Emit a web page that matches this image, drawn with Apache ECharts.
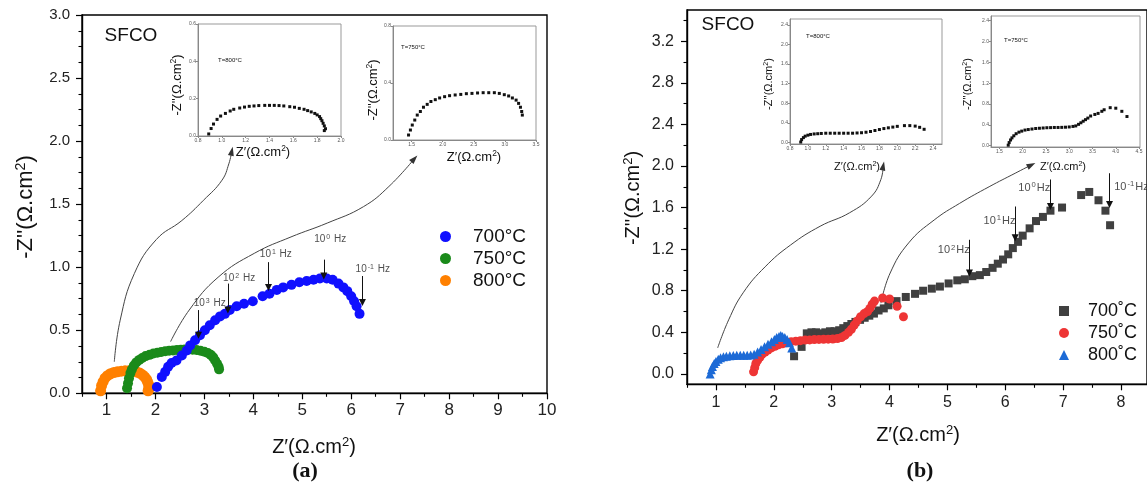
<!DOCTYPE html>
<html><head><meta charset="utf-8">
<script src="https://cdn.jsdelivr.net/npm/echarts@6/dist/echarts.min.js"></script>
<style>html,body{margin:0;padding:0;background:#fff}#c{width:1147px;height:486px}</style>
</head><body><div id="c"></div>
<script>
// ---------- tick labels ----------
const A_XTICKS = [1,2,3,4,5,6,7,8,9,10];
const A_XMINOR = [0.5,1.5,2.5,3.5,4.5,5.5,6.5,7.5,8.5,9.5];
const A_YTICKS = [0,0.5,1,1.5,2,2.5,3];
const A_YMINOR = [0.125,0.25,0.375,0.625,0.75,0.875,1.125,1.25,1.375,1.625,1.75,1.875,2.125,2.25,2.375,2.625,2.75,2.875];
const B_XTICKS = [1,2,3,4,5,6,7,8];
const B_XMINOR = [0.5,1.5,2.5,3.5,4.5,5.5,6.5,7.5];
const B_YTICKS = [0,0.4,0.8,1.2,1.6,2.0,2.4,2.8,3.2];
const B_YMINOR = [0.2,0.6,1.0,1.4,1.8,2.2,2.6,3.0,3.4];
const INA1_X = [0.8,1.0,1.2,1.4,1.6,1.8,2.0];
const INA1_Y = [0,0.2,0.4,0.6];
const INA2_X = [1.5,2.0,2.5,3.0,3.5];
const INA2_Y = [0,0.4,0.8];
const INB1_X = [0.8,1.0,1.2,1.4,1.6,1.8,2.0,2.2,2.4];
const INB1_Y = [0,0.4,0.8,1.2,1.6,2.0,2.4];
const INB2_X = [1.5,2.0,2.5,3.0,3.5,4.0,4.5];
const INB2_Y = [0,0.4,0.8,1.2,1.6,2.0,2.4];

// ---------- categories ----------
const A_NAMES = ['700°C','750°C','800°C'];
const B_NAMES = ['700˚C','750˚C','800˚C'];

// ---------- panel (a) series ----------
const A_700 = [[2.03,0.05],[2.13,0.13],[2.2,0.17],[2.26,0.21],[2.33,0.24],[2.43,0.26],[2.54,0.30],[2.64,0.34],[2.71,0.38],[2.81,0.42],[2.91,0.46],[3.01,0.50],[3.11,0.54],[3.22,0.58],[3.32,0.61],[3.42,0.63],[3.52,0.66],[3.66,0.69],[3.81,0.71],[3.99,0.73],[4.19,0.77],[4.33,0.79],[4.48,0.82],[4.61,0.84],[4.78,0.86],[4.94,0.88],[5.09,0.89],[5.23,0.90],[5.36,0.91],[5.5,0.91],[5.62,0.90],[5.74,0.87],[5.84,0.84],[5.92,0.81],[6.0,0.77],[6.06,0.73],[6.11,0.69],[6.17,0.63]];
const A_750 = [[1.42,0.04],[1.44,0.08],[1.46,0.12],[1.49,0.16],[1.52,0.19],[1.56,0.22],[1.61,0.245],[1.67,0.265],[1.73,0.28],[1.8,0.295],[1.88,0.305],[1.96,0.315],[2.04,0.322],[2.12,0.328],[2.2,0.333],[2.28,0.337],[2.36,0.34],[2.44,0.343],[2.52,0.345],[2.6,0.347],[2.68,0.347],[2.76,0.346],[2.84,0.343],[2.92,0.338],[3.0,0.33],[3.07,0.32],[3.13,0.305],[3.18,0.285],[3.22,0.26],[3.26,0.235],[3.29,0.21],[3.3,0.19]];
const A_800 = [[0.88,0.02],[0.9,0.06],[0.93,0.09],[0.97,0.12],[1.02,0.14],[1.08,0.155],[1.15,0.165],[1.22,0.17],[1.3,0.175],[1.38,0.178],[1.46,0.178],[1.54,0.175],[1.62,0.168],[1.68,0.16],[1.74,0.145],[1.78,0.13],[1.82,0.11],[1.84,0.09],[1.86,0.07],[1.87,0.05],[1.86,0.03],[1.85,0.02]];
// insets (a)
const INA1_800 = [[0.89,0.011],[0.91,0.04],[0.93,0.064],[0.96,0.089],[0.99,0.107],[1.03,0.121],[1.07,0.134],[1.1,0.143],[1.15,0.15],[1.19,0.155],[1.23,0.159],[1.27,0.161],[1.31,0.163],[1.36,0.164],[1.4,0.164],[1.44,0.164],[1.48,0.163],[1.52,0.161],[1.57,0.157],[1.61,0.154],[1.65,0.148],[1.69,0.143],[1.72,0.136],[1.75,0.129],[1.78,0.121],[1.8,0.113],[1.82,0.104],[1.83,0.093],[1.84,0.082],[1.85,0.068],[1.86,0.054],[1.87,0.039],[1.86,0.029]];
const INA2_750 = [[1.45,0.035],[1.48,0.07],[1.51,0.105],[1.55,0.14],[1.59,0.175],[1.64,0.2],[1.69,0.23],[1.75,0.25],[1.81,0.27],[1.88,0.283],[1.95,0.295],[2.03,0.304],[2.11,0.311],[2.2,0.316],[2.29,0.32],[2.38,0.325],[2.47,0.327],[2.56,0.33],[2.65,0.332],[2.74,0.332],[2.83,0.332],[2.91,0.327],[2.99,0.318],[3.06,0.309],[3.12,0.295],[3.18,0.28],[3.22,0.257],[3.25,0.23],[3.27,0.2],[3.28,0.175]];
// frequency markers (a)
const A_FREQ_EXP = ['3','2','1','0','-1'];
const A_FREQ_TXT = [[3.11,0.716],[3.71,0.914],[4.46,1.10],[5.57,1.22],[6.44,0.98]];
const A_FREQ_ARROW = [[2.88,0.66,0.46],[3.48,0.87,0.66],[4.31,1.04,0.84],[5.44,1.06,0.93],[6.23,0.93,0.72]];
const A_CURVE1 = [[1.16,0.25],[1.28,0.58],[1.57,0.95],[2.02,1.22],[2.54,1.37],[2.98,1.53],[3.36,1.69],[3.50,1.82],[3.56,1.92]];
const A_CURVE2 = [[2.31,0.41],[2.69,0.66],[3.28,0.92],[4.02,1.11],[4.77,1.24],[5.51,1.35],[6.25,1.48],[6.77,1.64],[7.29,1.86]];

// ---------- panel (b) series ----------
const B_700 = [[2.35,0.17],[2.48,0.26],[2.57,0.39],[2.65,0.40],[2.73,0.40],[2.81,0.39],[2.89,0.40],[2.97,0.41],[3.05,0.41],[3.13,0.42],[3.2,0.44],[3.27,0.46],[3.34,0.48],[3.41,0.5],[3.49,0.52],[3.57,0.54],[3.65,0.56],[3.73,0.58],[3.81,0.61],[3.9,0.63],[3.98,0.66],[4.12,0.70],[4.28,0.74],[4.44,0.77],[4.58,0.80],[4.73,0.82],[4.87,0.84],[5.02,0.87],[5.17,0.90],[5.30,0.91],[5.43,0.94],[5.56,0.95],[5.67,0.98],[5.78,1.02],[5.87,1.06],[5.96,1.10],[6.05,1.15],[6.13,1.21],[6.22,1.27],[6.30,1.33],[6.42,1.40],[6.53,1.47],[6.65,1.51],[6.78,1.57],[6.98,1.60],[7.31,1.72],[7.45,1.75],[7.61,1.67],[7.73,1.57],[7.81,1.43]];
const B_750 = [[1.65,0.02],[1.67,0.06],[1.69,0.1],[1.72,0.13],[1.76,0.16],[1.8,0.19],[1.85,0.21],[1.9,0.23],[1.96,0.25],[2.02,0.265],[2.08,0.28],[2.15,0.29],[2.22,0.3],[2.3,0.31],[2.38,0.315],[2.46,0.32],[2.54,0.325],[2.62,0.327],[2.7,0.33],[2.78,0.332],[2.86,0.333],[2.94,0.334],[3.02,0.336],[3.1,0.34],[3.17,0.35],[3.23,0.37],[3.29,0.4],[3.34,0.43],[3.39,0.47],[3.44,0.51],[3.5,0.55],[3.56,0.58],[3.62,0.6],[3.66,0.63],[3.7,0.67],[3.74,0.7],[3.88,0.73],[4.0,0.72],[4.13,0.65],[4.24,0.55]];
const B_800 = [[0.9,0.0],[0.92,0.04],[0.94,0.07],[0.97,0.1],[1.0,0.12],[1.04,0.14],[1.08,0.155],[1.13,0.165],[1.18,0.17],[1.24,0.175],[1.3,0.178],[1.36,0.18],[1.42,0.18],[1.48,0.18],[1.54,0.18],[1.6,0.182],[1.66,0.19],[1.72,0.21],[1.78,0.235],[1.84,0.26],[1.9,0.285],[1.96,0.31],[2.01,0.33],[2.05,0.35],[2.09,0.36],[2.12,0.37],[2.15,0.36],[2.19,0.35],[2.23,0.33],[2.27,0.3],[2.31,0.25]];
// insets (b)
const INB1_800 = [[0.92,0.01],[0.93,0.06],[0.95,0.1],[0.97,0.13],[1.0,0.15],[1.03,0.165],[1.07,0.175],[1.11,0.18],[1.15,0.185],[1.2,0.19],[1.25,0.19],[1.3,0.19],[1.35,0.19],[1.4,0.19],[1.45,0.19],[1.5,0.19],[1.55,0.195],[1.6,0.2],[1.65,0.21],[1.7,0.225],[1.75,0.245],[1.8,0.265],[1.85,0.285],[1.9,0.3],[1.95,0.315],[2.0,0.33],[2.08,0.345],[2.14,0.345],[2.2,0.335],[2.25,0.31],[2.3,0.27]];
const INB2_750 = [[1.69,0.01],[1.71,0.06],[1.74,0.11],[1.77,0.15],[1.81,0.19],[1.86,0.23],[1.92,0.26],[1.98,0.28],[2.05,0.3],[2.12,0.31],[2.2,0.32],[2.28,0.33],[2.36,0.335],[2.44,0.34],[2.52,0.345],[2.6,0.347],[2.68,0.35],[2.76,0.35],[2.84,0.352],[2.92,0.355],[3.0,0.36],[3.08,0.37],[3.14,0.38],[3.2,0.41],[3.25,0.44],[3.3,0.47],[3.35,0.5],[3.4,0.53],[3.46,0.57],[3.55,0.6],[3.62,0.62],[3.7,0.66],[3.75,0.69],[3.88,0.73],[4.0,0.72],[4.13,0.66],[4.24,0.56]];
// frequency markers (b)
const B_FREQ_EXP = ['2','1','0','-1'];
const B_FREQ_TXT = [[5.11,1.19],[5.90,1.475],[6.50,1.79],[8.18,1.80]];
const B_FREQ_ARROW = [[5.38,1.29,0.97],[6.17,1.61,1.31],[6.78,1.87,1.61],[7.80,1.93,1.63]];
const B_CURVE1 = [[1.03,0.25],[1.22,0.52],[1.47,0.78],[1.85,1.03],[2.29,1.24],[2.80,1.42],[3.31,1.55],[3.69,1.71],[3.85,1.87],[3.89,2.0]];
const B_CURVE2 = [[3.85,0.68],[4.01,0.97],[4.33,1.26],[4.77,1.48],[5.21,1.64],[5.72,1.80],[6.17,1.93],[6.45,2.01]];

// ---------- build ----------
const FONT = "'Liberation Sans', Arial, sans-serif";
const chart = echarts.init(document.getElementById('c'), null, {renderer:'canvas'});

function mainAxis(grid, min, max, labels, fontSize, margin, fmt) {
  return { type:'value', gridIndex:grid, min, max,
    axisLine:{show:true, onZero:false, lineStyle:{color:'#000', width:1.4}},
    axisTick:{show:true, inside:false, length:6, customValues:labels, lineStyle:{color:'#000', width:1.2}},
    axisLabel:{show:true, customValues:labels, fontSize, margin, color:'#222', fontFamily:FONT, formatter:fmt},
    splitLine:{show:false} };
}
function minorAxis(grid, min, max, ticks, pos) {
  return { type:'value', gridIndex:grid, min, max, position:pos,
    axisLine:{show:false, onZero:false},
    axisTick:{show:true, inside:false, length:3.5, customValues:ticks, lineStyle:{color:'#000', width:1.1}},
    axisLabel:{show:false}, splitLine:{show:false} };
}
function insetAxis(grid, min, max, labels) {
  return { type:'value', gridIndex:grid, min, max,
    axisLine:{show:true, onZero:false, lineStyle:{color:'#888', width:1}},
    axisTick:{show:true, inside:false, length:2, customValues:labels, lineStyle:{color:'#888'}},
    axisLabel:{show:true, customValues:labels, fontSize:5, margin:2, color:'#555', fontFamily:FONT, formatter:v=>v.toFixed(1)},
    splitLine:{show:false} };
}
const f1 = v => v.toFixed(1);
const fi = v => String(v);

const xAxis = [
  Object.assign(mainAxis(0, 0.5, 10, A_XTICKS, 17, 9, fi), {position:'bottom'}),
  Object.assign(mainAxis(1, 0.5, 8.448, B_XTICKS, 16, 10, fi), {position:'bottom'}),
  insetAxis(2, 0.8, 2.0, INA1_X),
  insetAxis(3, 1.2, 3.5, INA2_X),
  insetAxis(4, 0.8, 2.5, INB1_X),
  insetAxis(5, 1.32, 4.52, INB2_X),
  minorAxis(0, 0.5, 10, A_XMINOR, 'bottom'),
  minorAxis(1, 0.5, 8.448, B_XMINOR, 'bottom')
];
const yAxis = [
  Object.assign(mainAxis(0, 0, 3, A_YTICKS, 15, 12, f1), {position:'left'}),
  Object.assign(mainAxis(1, -0.1, 3.5, B_YTICKS, 16, 13, f1), {position:'left'}),
  insetAxis(2, 0, 0.6, INA1_Y),
  insetAxis(3, 0, 0.8, INA2_Y),
  insetAxis(4, -0.03, 2.52, INB1_Y),
  insetAxis(5, -0.025, 2.49, INB2_Y),
  minorAxis(0, 0, 3, A_YMINOR, 'left'),
  minorAxis(1, -0.1, 3.5, B_YMINOR, 'left')
];
const grid = [
  {left:82, top:15, width:465, height:378.3, show:true, borderColor:'#000', borderWidth:1.4},
  {left:687, top:10, width:461, height:374.3, show:true, borderColor:'#000', borderWidth:1.4},
  {left:198, top:24, width:143, height:112, show:true, borderColor:'#999', borderWidth:1},
  {left:393, top:26, width:143, height:114, show:true, borderColor:'#999', borderWidth:1},
  {left:790, top:19, width:152, height:125, show:true, borderColor:'#999', borderWidth:1},
  {left:991, top:16, width:149, height:131, show:true, borderColor:'#999', borderWidth:1}
];

function scatter(name, data, xi, color, symbol, size) {
  return {type:'scatter', name, data, xAxisIndex:xi, yAxisIndex:xi, symbol, symbolSize:size,
    itemStyle:{color, opacity:1}, silent:true, z:3};
}
function curve(data, xi, rot) {
  return {type:'line', data: data.map((p,i)=> i===data.length-1 ?
      {value:p, symbol:'triangle', symbolSize:[6,9], symbolRotate:rot, itemStyle:{color:'#333'}} : {value:p}),
    xAxisIndex:xi, yAxisIndex:xi, smooth:0.45, symbol:'none', showSymbol:true,
    lineStyle:{color:'#444', width:1}, silent:true, z:2};
}
function freq(txt, exps, arrows, xi, fs, sep) {
  return {type:'scatter', xAxisIndex:xi, yAxisIndex:xi, symbolSize:0, silent:true, z:4,
    data: txt.map((p,i)=>({value:p, t:'10{s|'+exps[i]+'}'+sep+'Hz'})),
    label:{show:true, position:'inside', formatter:p=>p.data.t, color:'#222', fontFamily:FONT, fontSize:fs,
      rich:{s:{fontSize:fs*0.7, verticalAlign:'top', padding:[0,1,fs*0.45,1], fontFamily:FONT, color:'#222'}}},
    markLine:{silent:true, symbol:['none','triangle'], symbolSize:7, animation:false,
      lineStyle:{color:'#111', width:1, type:'solid'}, label:{show:false},
      data: arrows.map(a=>[{coord:[a[0],a[1]]},{coord:[a[0],a[2]]}])}};
}

const series = [
  scatter(A_NAMES[2], A_800, 0, '#ff8000', 'circle', 11),
  scatter(A_NAMES[1], A_750, 0, '#1a8a1a', 'circle', 10),
  scatter(A_NAMES[0], A_700, 0, '#1010ff', 'circle', 10),
  scatter('insetA1', INA1_800, 2, '#111', 'rect', 3),
  scatter('insetA2', INA2_750, 3, '#111', 'rect', 3),
  curve(A_CURVE1, 0, -12),
  curve(A_CURVE2, 0, -42),
  freq(A_FREQ_TXT, A_FREQ_EXP, A_FREQ_ARROW, 0, 10, ' '),
  scatter(B_NAMES[0], B_700, 1, '#404040', 'rect', 8),
  scatter(B_NAMES[1], B_750, 1, '#ee3535', 'circle', 9),
  scatter(B_NAMES[2], B_800, 1, '#1c6ad6', 'triangle', 9),
  scatter('insetB1', INB1_800, 4, '#111', 'rect', 3),
  scatter('insetB2', INB2_750, 5, '#111', 'rect', 3),
  curve(B_CURVE1, 1, -11),
  curve(B_CURVE2, 1, -63),
  freq(B_FREQ_TXT, B_FREQ_EXP, B_FREQ_ARROW, 1, 11, '')
];

function txt(x, y, text, size, opts) {
  opts = opts || {};
  return {type:'text', x, y, rotation: opts.rot || 0, z:10, silent:true,
    style:{text, fill:'#111', font:(opts.weight||'normal')+' '+size+'px '+(opts.family||FONT),
      align:'center', verticalAlign:'middle',
      rich:{s:{fontSize:size*0.65, verticalAlign:'top', padding:[0,0,size*0.45,0], fontFamily:opts.family||FONT, fill:'#111'},
            n:{fontSize:size, fontFamily:opts.family||FONT, fill:'#111'}}}};
}
const graphic = [
  txt(131, 36, 'SFCO', 19),
  txt(728, 25, 'SFCO', 19),
  txt(314, 447, '{n|Z′(Ω.cm}{s|2}{n|)}', 20),
  txt(26, 207, "{n|-Z''(Ω.cm}{s|2}{n|)}", 22, {rot:Math.PI/2}),
  txt(918, 435, '{n|Z′(Ω.cm}{s|2}{n|)}', 20),
  txt(633, 198, "{n|-Z''(Ω.cm}{s|2}{n|)}", 20, {rot:Math.PI/2}),
  txt(305, 471, '(a)', 22, {weight:'bold', family:"'Liberation Serif', serif"}),
  txt(920, 471, '(b)', 22, {weight:'bold', family:"'Liberation Serif', serif"}),
  txt(177, 85, "{n|-Z''(Ω.cm}{s|2}{n|)}", 13, {rot:Math.PI/2}),
  txt(263, 152, '{n|Z′(Ω.cm}{s|2}{n|)}', 13),
  txt(373, 90, "{n|-Z''(Ω.cm}{s|2}{n|)}", 13, {rot:Math.PI/2}),
  txt(474, 157, '{n|Z′(Ω.cm}{s|2}{n|)}', 13),
  txt(769, 84, "{n|-Z''(Ω.cm}{s|2}{n|)}", 11, {rot:Math.PI/2}),
  txt(857, 167, '{n|Z′(Ω.cm}{s|2}{n|)}', 11),
  txt(968, 84, "{n|-Z''(Ω.cm}{s|2}{n|)}", 11, {rot:Math.PI/2}),
  txt(1063, 167, '{n|Z′(Ω.cm}{s|2}{n|)}', 11),
  txt(230, 60, 'T=800°C', 6),
  txt(413, 47, 'T=750°C', 6),
  txt(818, 36, 'T=800°C', 6),
  txt(1016, 40, 'T=750°C', 6)
];

const legend = [
  {data:A_NAMES, orient:'vertical', left:435, top:222, itemWidth:11, itemHeight:11, itemGap:3,
    textStyle:{fontSize:19, color:'#111', fontFamily:FONT, padding:[0,0,0,17]}, selectedMode:false},
  {data:B_NAMES, orient:'vertical', left:1054, top:297, itemWidth:10, itemHeight:10, itemGap:4,
    textStyle:{fontSize:18, color:'#111', fontFamily:FONT, padding:[0,0,0,14]}, selectedMode:false}
];

chart.setOption({animation:false, backgroundColor:'#fff', textStyle:{fontFamily:FONT},
  grid, xAxis, yAxis, series, legend, graphic});
</script></body></html>
